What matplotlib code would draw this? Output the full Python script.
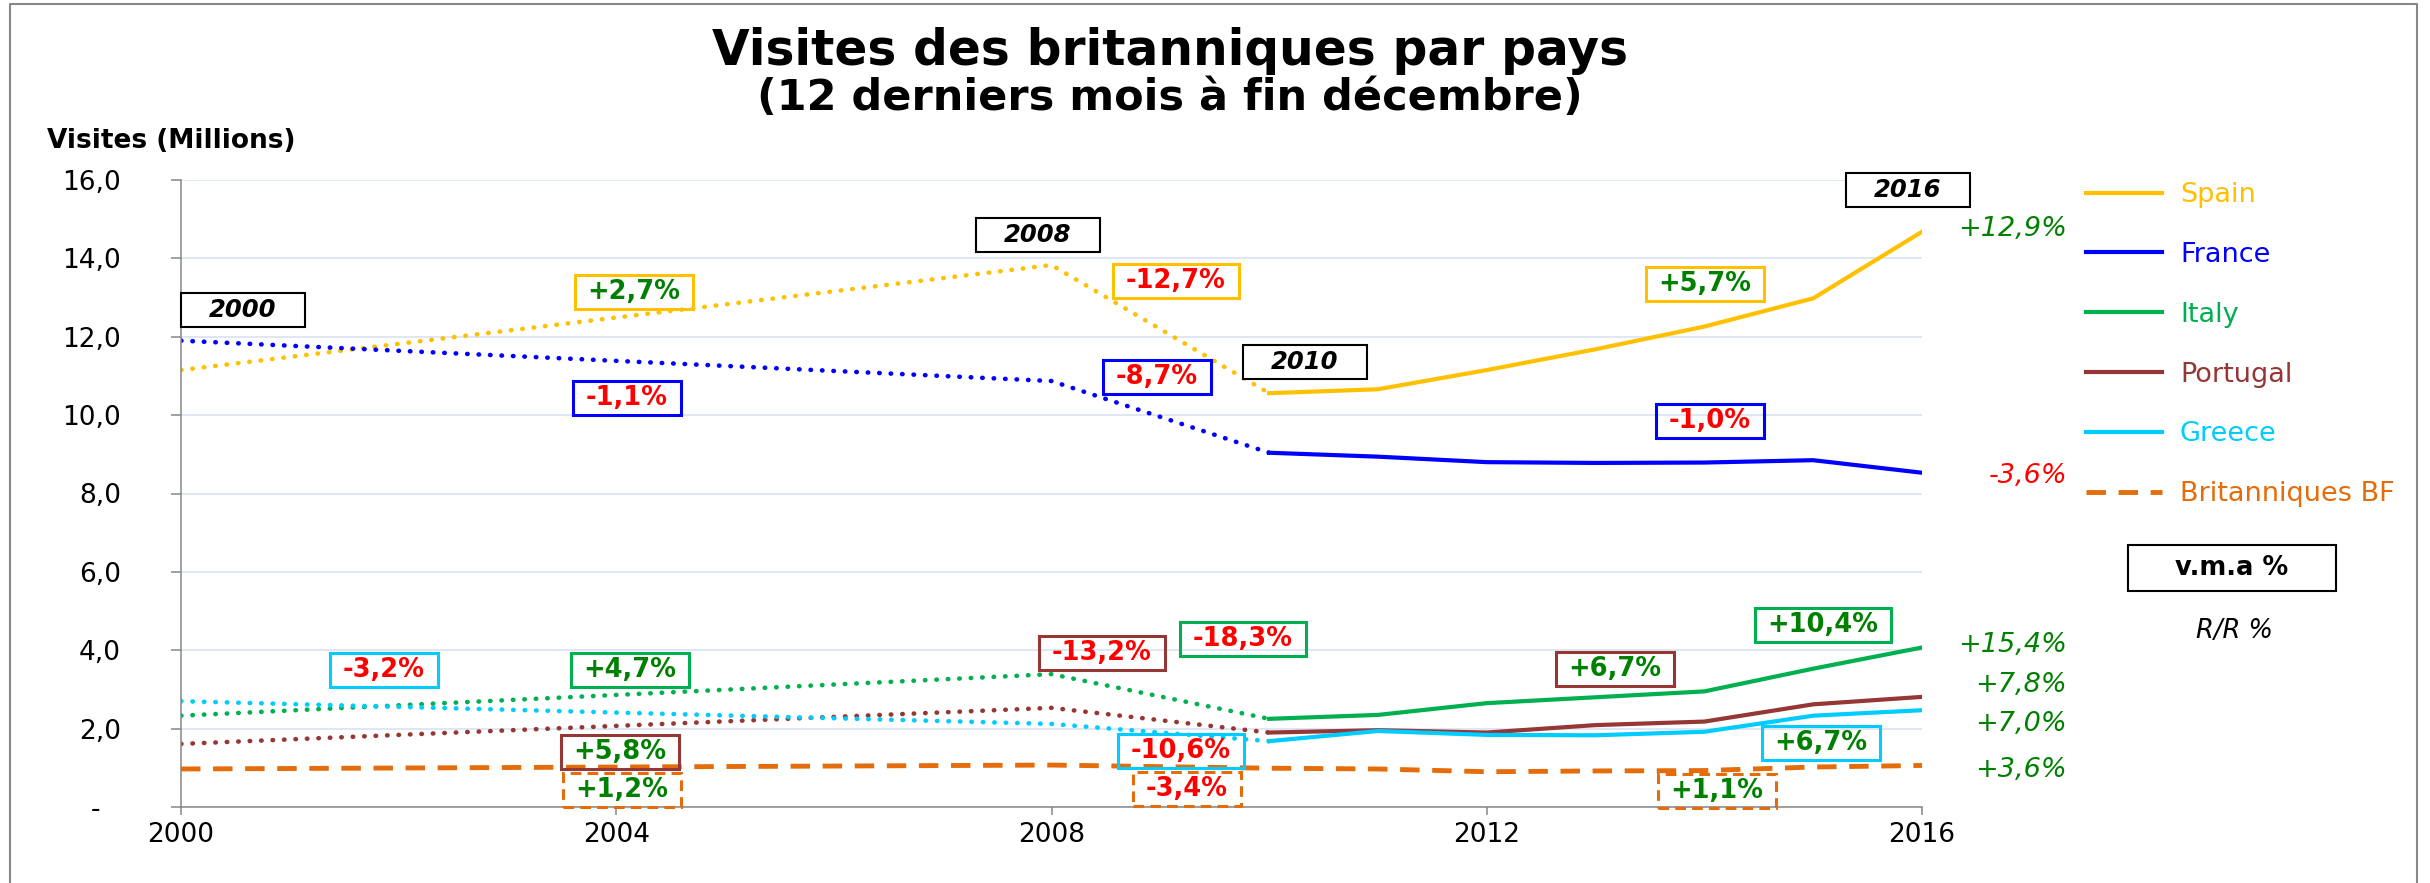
import matplotlib
matplotlib.use("Agg")
import matplotlib.pyplot as plt
from matplotlib.path import Path
from matplotlib.lines import Line2D
from matplotlib.transforms import ScaledTranslation

# data, millions of visits (dotted part: 2000 -> 2008 -> 2010, solid part: 2010..2016)
years_old = [2000, 2008, 2010]
years_new = [2010, 2011, 2012, 2013, 2014, 2015, 2016]
bf_years = [2000, 2008, 2010, 2011, 2012, 2013, 2014, 2015, 2016]

countries = ["Spain", "France", "Italy", "Portugal", "Greece"]
spain_old = [11.15, 13.83, 10.56]
spain_new = [10.56, 10.66, 11.15, 11.68, 12.26, 12.98, 14.68]
france_old = [11.90, 10.87, 9.04]
france_new = [9.04, 8.94, 8.80, 8.78, 8.79, 8.85, 8.53]
italy_old = [2.33, 3.39, 2.25]
italy_new = [2.25, 2.35, 2.65, 2.80, 2.95, 3.53, 4.07]
portugal_old = [1.61, 2.53, 1.90]
portugal_new = [1.90, 1.96, 1.90, 2.09, 2.18, 2.62, 2.81]
greece_old = [2.70, 2.12, 1.68]
greece_new = [1.68, 1.94, 1.84, 1.83, 1.92, 2.33, 2.47]
bf_name = "Britanniques BF"
bf_values = [0.97, 1.07, 0.99, 0.97, 0.90, 0.92, 0.93, 1.02, 1.06]

x_ticks = [2000, 2004, 2008, 2012, 2016]
y_ticks = [0, 2, 4, 6, 8, 10, 12, 14, 16]
y_tick_labels = ["-", "2,0", "4,0", "6,0", "8,0", "10,0", "12,0", "14,0", "16,0"]

year_labels = ["2000", "2008", "2010", "2016"]
# annual average growth labels (v.m.a %)
vma_labels = ["+2,7%", "-1,1%", "-3,2%", "+4,7%", "+5,8%", "+1,2%",
              "-12,7%", "-8,7%", "-13,2%", "-18,3%", "-10,6%", "-3,4%",
              "+6,7%", "+5,7%", "-1,0%", "+10,4%", "+6,7%", "+1,1%"]
# last year change (R/R %)
rr_labels = ["+12,9%", "-3,6%", "+15,4%", "+7,8%", "+7,0%", "+3,6%"]

# colours
spain_col = "#FFC000"
france_col = "#0000FF"
italy_col = "#00B050"
portugal_col = "#953735"
greece_col = "#00CCFF"
bf_col = "#E46C0A"
pos_col = "#008000"
neg_col = "#FF0000"
grey = "#868686"

W, H = 2430, 883


def fx(px):
    return px / W


def fy(py):
    return 1 - py / H


def pad_box(padx, pady):
    # rectangle with separate horizontal / vertical padding (in font units)
    def style(x0, y0, width, height, mutation_size):
        px = padx * mutation_size
        py = pady * mutation_size
        x0, y0 = x0 - px, y0 - py
        x1, y1 = x0 + width + 2 * px, y0 + height + 2 * py
        return Path([(x0, y0), (x1, y0), (x1, y1), (x0, y1), (x0, y0)], closed=True)
    return style


fig = plt.figure(figsize=(24.3, 8.83), dpi=100)
ax = fig.add_axes([fx(181), fy(807), (1922 - 181) / W, (807 - 180) / H])

dotted = (0, (0.1, 2.4))
series = [
    (spain_old, spain_new, spain_col),
    (france_old, france_new, france_col),
    (italy_old, italy_new, italy_col),
    (portugal_old, portugal_new, portugal_col),
    (greece_old, greece_new, greece_col),
]
handles = []
for name, (old, new, col) in zip(countries, series):
    ax.plot(years_old, old, color=col, lw=3.3, linestyle=dotted, dash_capstyle="round")
    ln, = ax.plot(years_new, new, color=col, lw=3, label=name)
    handles.append(ln)
ln, = ax.plot(bf_years, bf_values, color=bf_col, lw=3.5, linestyle=(0, (4, 2.6)), label=bf_name)
handles.append(ln)

ax.set_xlim(2000, 2016)
ax.set_ylim(0, 16)
ax.set_xticks(x_ticks, [str(y) for y in x_ticks])
ax.set_yticks(y_ticks, y_tick_labels)
ax.grid(axis="y", color="#D9E1F2", lw=1.2)
ax.set_axisbelow(True)
for s in ["top", "right"]:
    ax.spines[s].set_visible(False)
for s in ["left", "bottom"]:
    ax.spines[s].set_color(grey)
    ax.spines[s].set_linewidth(1.1)
ax.tick_params(axis="y", length=7.2, width=1.1, color=grey, pad=36, labelsize=19)
ax.tick_params(axis="x", length=6, width=1.1, color=grey, pad=5, labelsize=19)
zero = ax.get_yticklabels()[0]
zero.set_transform(zero.get_transform() + ScaledTranslation(-0.21, 0, fig.dpi_scale_trans))

ax.legend(handles=handles, loc="upper left", bbox_to_anchor=(fx(2086), fy(182)),
          bbox_transform=fig.transFigure, frameon=False, fontsize=19.5,
          labelcolor="linecolor", handlelength=2.8, handletextpad=0.67,
          labelspacing=1.25, borderpad=0, borderaxespad=0)

# titles
fig.text(fx(1170), fy(65), "Visites des britanniques par pays", ha="center",
         va="baseline", fontsize=35, fontweight="bold")
fig.text(fx(1170), fy(110), "(12 derniers mois à fin décembre)", ha="center",
         va="baseline", fontsize=31, fontweight="bold")
fig.text(fx(47), fy(148), "Visites (Millions)", ha="left", va="baseline",
         fontsize=19, fontweight="bold")

# year boxes
year_pos = [(243, 310), (1038, 235), (1305, 362), (1908, 190)]
for lab, (px, py) in zip(year_labels, year_pos):
    fig.text(fx(px), fy(py), lab, ha="center", va="center", fontsize=17.5,
             fontweight="bold", fontstyle="italic", color="black",
             bbox=dict(boxstyle=pad_box(1.15, 0.2), fc="white", ec="black", lw=1.5))

# v.m.a boxes: position, edge colour, dashed border
vma_pos = [(634, 292), (627, 398), (384, 670), (630, 670), (620, 752), (622, 790),
           (1176, 281), (1157, 377), (1102, 653), (1243, 639), (1181, 751), (1187, 789),
           (1615, 669), (1705, 284), (1710, 421), (1823, 625), (1821, 743), (1717, 791)]
vma_edge = [spain_col, france_col, greece_col, italy_col, portugal_col, bf_col,
            spain_col, france_col, portugal_col, italy_col, greece_col, bf_col,
            portugal_col, spain_col, france_col, italy_col, greece_col, bf_col]
for lab, (px, py), ec in zip(vma_labels, vma_pos, vma_edge):
    ls = (0, (3.5, 2)) if ec == bf_col else "-"
    fig.text(fx(px), fy(py), lab, ha="center", va="center", fontsize=18.5,
             fontweight="bold", color=pos_col if lab.startswith("+") else neg_col,
             bbox=dict(boxstyle=pad_box(0.5, 0.15), fc="none", ec=ec, lw=2.2, ls=ls))

# R/R labels
rr_base = [236, 483, 652, 692, 731, 777]
for lab, py in zip(rr_labels, rr_base):
    fig.text(fx(2067), fy(py), lab, ha="right", va="baseline", fontsize=19.5,
             fontstyle="italic", color=pos_col if lab.startswith("+") else neg_col)

fig.text(fx(2232), fy(568), "v.m.a %", ha="center", va="center", fontsize=18.5,
         fontweight="bold", bbox=dict(boxstyle=pad_box(1.85, 0.4), fc="white", ec="black", lw=1.5))
fig.text(fx(2234), fy(631), "R/R %", ha="center", va="center", fontsize=18.5, fontstyle="italic")

# outer frame
fig.add_artist(Line2D([fx(10), fx(10), fx(2417), fx(2417)], [0, fy(4), fy(4), 0],
                      transform=fig.transFigure, color="#888888", lw=1.5))

fig.savefig("out.png", dpi=100)
